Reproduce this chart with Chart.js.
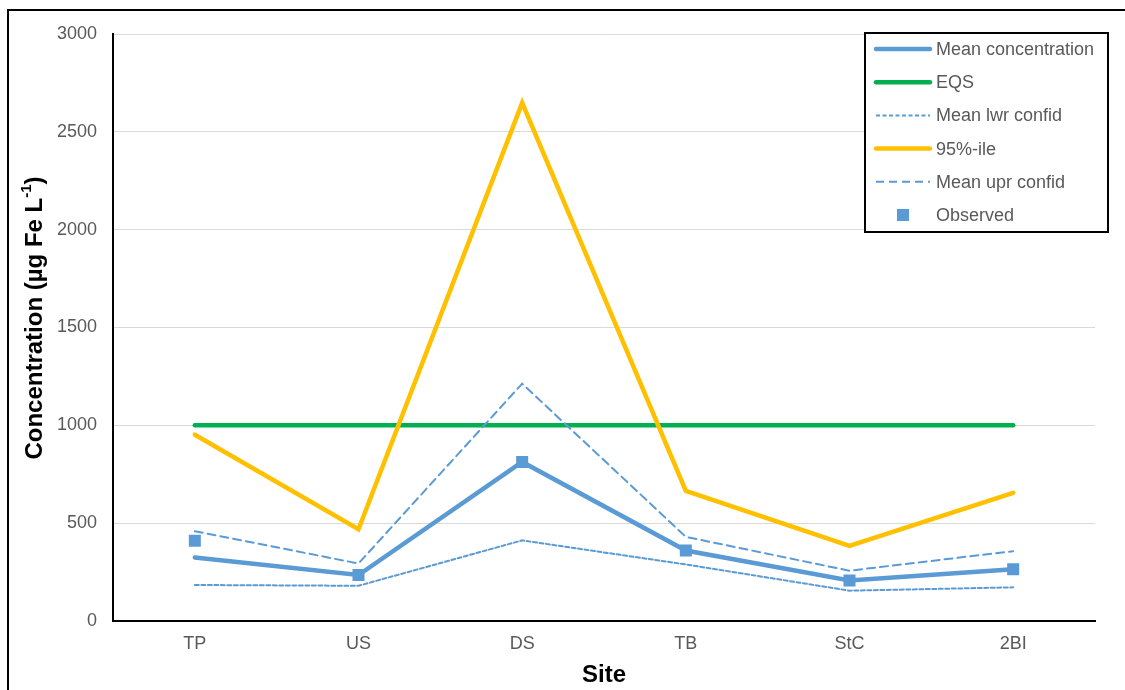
<!DOCTYPE html>
<html lang="en">
<head>
    <meta charset="UTF-8">
    <title>Fe concentration by site</title>
    <script src="https://cdn.jsdelivr.net/npm/chart.js"></script>
    <style>
        body {
            margin: 0;
            background: #fff;
        }
        .wrap {
            position: relative;
            width: 1125px;
            height: 690px;
        }
    </style>
</head>
<body>

<div class="wrap">
    <canvas id="feChart" width="1125" height="690"></canvas>
</div>

<script>
    // data
    var sites = ['TP', 'US', 'DS', 'TB', 'StC', '2BI'];
    var meanConc = [325, 235, 813, 360, 207, 265];
    var eqs = [1000, 1000, 1000, 1000, 1000, 1000];
    var lwrConfid = [184, 180, 412, 289, 155, 172];
    var pct95 = [952, 469, 2648, 665, 384, 655];
    var uprConfid = [459, 294, 1213, 430, 257, 357];
    var observed = [410, 235, 813, 360, 207, 265];
    var yTicks = [0, 500, 1000, 1500, 2000, 2500, 3000];

    var blue = '#5b9bd5';
    var green = '#00b050';
    var gold = '#ffc000';
    var grey = '#595959';
    var font = '"Liberation Sans", Arial, sans-serif';

    // legend box + axis titles + outer frame, drawn straight on the canvas
    var extras = {
        id: 'extras',
        afterDraw: function (chart) {
            var ctx = chart.ctx;
            var area = chart.chartArea;
            ctx.save();

            // outer frame
            ctx.strokeStyle = '#000';
            ctx.lineWidth = 2;
            ctx.strokeRect(8, 10, 1300, 900);

            // axis titles
            ctx.fillStyle = '#000';
            ctx.font = 'bold 24px ' + font;
            ctx.textAlign = 'center';
            ctx.textBaseline = 'middle';
            ctx.fillText('Site', (area.left + area.right) / 2, 675);

            ctx.translate(35, 318);
            ctx.rotate(-Math.PI / 2);
            var main = 'Concentration (\u00b5g Fe L';
            var sup = '-1';
            var close = ')';
            ctx.font = 'bold 24px ' + font;
            var w1 = ctx.measureText(main).width;
            var w3 = ctx.measureText(close).width;
            ctx.font = 'bold 15px ' + font;
            var w2 = ctx.measureText(sup).width;
            var x0 = -(w1 + w2 + w3) / 2;
            ctx.textAlign = 'left';
            ctx.font = 'bold 24px ' + font;
            ctx.fillText(main, x0, 0);
            ctx.font = 'bold 15px ' + font;
            ctx.fillText(sup, x0 + w1, -8);
            ctx.font = 'bold 24px ' + font;
            ctx.fillText(close, x0 + w1 + w2, 0);
            ctx.setTransform(1, 0, 0, 1, 0, 0);

            // legend
            ctx.fillStyle = '#fff';
            ctx.fillRect(865, 33, 243, 199);
            ctx.strokeStyle = '#000';
            ctx.lineWidth = 2;
            ctx.strokeRect(865, 33, 243, 199);

            ctx.font = '18px ' + font;
            ctx.textAlign = 'left';
            ctx.textBaseline = 'middle';
            chart.data.datasets.forEach(function (ds, i) {
                var y = 49 + i * 33.2;
                ctx.save();
                if (ds.showLine === false) {
                    ctx.fillStyle = ds.backgroundColor;
                    ctx.fillRect(897, y - 6, 12, 12);
                } else {
                    ctx.strokeStyle = ds.borderColor;
                    ctx.lineWidth = ds.borderWidth;
                    ctx.lineCap = ds.borderDash.length ? 'butt' : 'round';
                    ctx.setLineDash(ds.borderDash);
                    ctx.beginPath();
                    ctx.moveTo(876, y);
                    ctx.lineTo(930, y);
                    ctx.stroke();
                }
                ctx.restore();
                ctx.fillStyle = grey;
                ctx.fillText(ds.label, 936, y + 1);
            });
            ctx.restore();
        }
    };

    var ctx = document.getElementById('feChart').getContext('2d');
    new Chart(ctx, {
        type: 'line',
        data: {
            labels: sites,
            datasets: [{
                label: 'Mean concentration',
                data: meanConc,
                borderColor: blue,
                borderWidth: 4.5,
                borderDash: [],
                pointRadius: 0,
                order: 2
            }, {
                label: 'EQS',
                data: eqs,
                borderColor: green,
                borderWidth: 4.5,
                borderDash: [],
                pointRadius: 0,
                order: 5
            }, {
                label: 'Mean lwr confid',
                data: lwrConfid,
                borderColor: blue,
                borderWidth: 2,
                borderDash: [4, 2.5],
                pointRadius: 0,
                order: 3
            }, {
                label: '95%-ile',
                data: pct95,
                borderColor: gold,
                borderWidth: 4.5,
                borderDash: [],
                pointRadius: 0,
                order: 4
            }, {
                label: 'Mean upr confid',
                data: uprConfid,
                borderColor: blue,
                borderWidth: 2,
                borderDash: [8, 5],
                pointRadius: 0,
                order: 3
            }, {
                label: 'Observed',
                data: observed,
                showLine: false,
                backgroundColor: blue,
                borderColor: blue,
                borderWidth: 0,
                pointStyle: 'rect',
                pointRadius: 8.5,
                order: 1
            }]
        },
        options: {
            responsive: false,
            animation: false,
            layout: {
                padding: { top: 34, right: 30, left: 0, bottom: 0 }
            },
            elements: {
                line: { tension: 0, borderCapStyle: 'round', borderJoinStyle: 'miter' }
            },
            plugins: {
                legend: { display: false },
                tooltip: { enabled: false }
            },
            scales: {
                x: {
                    offset: true,
                    grid: { display: false, drawTicks: false },
                    border: { display: true, color: '#000', width: 2 },
                    ticks: {
                        color: grey,
                        padding: 12,
                        font: { family: font, size: 18 }
                    },
                    afterFit: function (scale) { scale.height = 69; }
                },
                y: {
                    min: 0,
                    max: 3000,
                    afterBuildTicks: function (scale) {
                        scale.ticks = yTicks.map(function (v) { return { value: v }; });
                    },
                    grid: { color: '#d9d9d9', lineWidth: 1, drawTicks: false },
                    border: { display: true, color: '#000', width: 2 },
                    ticks: {
                        color: grey,
                        padding: 16,
                        font: { family: font, size: 18 },
                        callback: function (v) { return String(v); }
                    },
                    afterFit: function (scale) { scale.width = 113; }
                }
            }
        },
        plugins: [extras]
    });
</script>

</body>
</html>
